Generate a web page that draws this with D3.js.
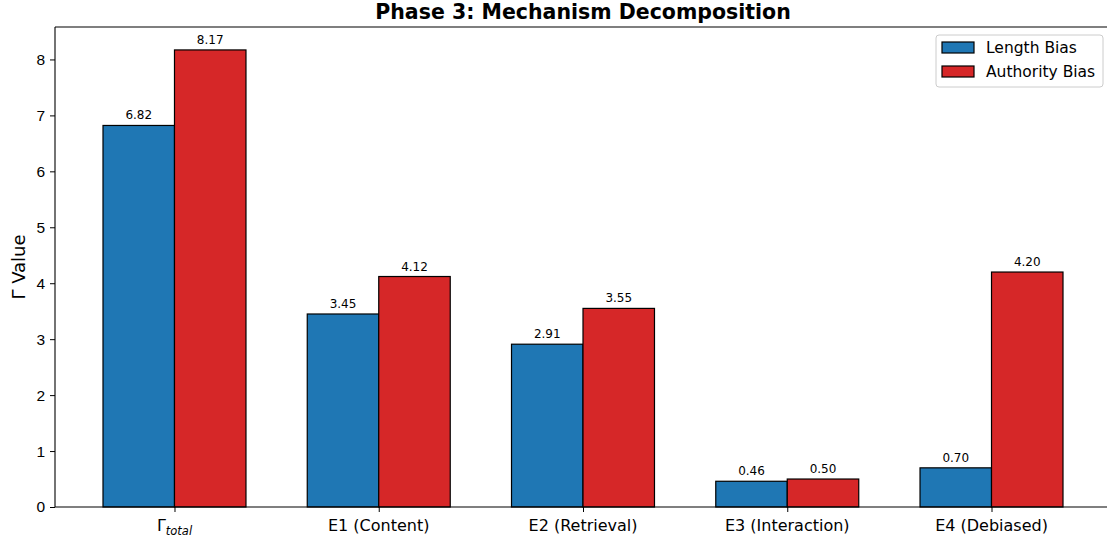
<!DOCTYPE html>
<html>
<head>
<meta charset="utf-8">
<script src="https://cdn.jsdelivr.net/npm/d3@7"></script>
<style>
  body { margin: 0; background: #fff; }
  svg { font-family: "DejaVu Sans", sans-serif; }
</style>
</head>
<body>
<div id="chart"></div>
<script>
// data
var categories = ["Γtotal", "E1 (Content)", "E2 (Retrieval)", "E3 (Interaction)", "E4 (Debiased)"];
var lengthBias = [6.82, 3.45, 2.91, 0.46, 0.70];
var authorityBias = [8.17, 4.12, 3.55, 0.50, 4.20];
var seriesNames = ["Length Bias", "Authority Bias"];
var yTicks = [0, 1, 2, 3, 4, 5, 6, 7, 8];

var svgWidth = 1107;
var svgHeight = 540;
var margin = { top: 27, right: -4, bottom: 33, left: 55 };
var width = svgWidth - margin.left - margin.right;
var height = svgHeight - margin.top - margin.bottom;

var colors = ["#1f77b4", "#d62728"];
var barW = 0.35;

var svg = d3.select("#chart")
  .append("svg")
  .attr("width", svgWidth)
  .attr("height", svgHeight);

var chart = svg.append("g")
  .attr("transform", "translate(" + margin.left + "," + margin.top + ")");

// x in category-index units, matplotlib style 5% margins
var xScale = d3.scaleLinear().domain([-0.585, 4.585]).range([0, width]);
var yScale = d3.scaleLinear().domain([0, 8.58]).range([height, 0]);

var series = [lengthBias, authorityBias];

series.forEach(function(vals, s) {
  var offset = s === 0 ? -barW : 0;
  chart.selectAll(".bar" + s)
    .data(vals)
    .enter()
    .append("rect")
    .attr("x", function(d, i) { return xScale(i + offset); })
    .attr("y", function(d) { return yScale(d); })
    .attr("width", xScale(barW) - xScale(0))
    .attr("height", function(d) { return height - yScale(d); })
    .attr("fill", colors[s])
    .attr("stroke", "#000")
    .attr("stroke-width", 1.2);

  chart.selectAll(".lbl" + s)
    .data(vals)
    .enter()
    .append("text")
    .attr("x", function(d, i) { return xScale(i + offset + barW / 2); })
    .attr("y", function(d) { return yScale(d) - 6; })
    .attr("text-anchor", "middle")
    .style("font-size", "12px")
    .text(function(d) { return d.toFixed(2); });
});

// y axis
var leftAxis = d3.axisLeft(yScale).tickValues(yTicks).tickSize(5).tickPadding(5).tickFormat(d3.format("d"));
var yAxisG = chart.append("g").call(leftAxis);
yAxisG.select(".domain").remove();
yAxisG.selectAll("text").style("font-size", "15.5px").attr("fill", "#000");
yAxisG.selectAll("line").attr("stroke", "#000").attr("stroke-width", 1);

// x axis
var bottomAxis = d3.axisBottom(xScale).tickValues(d3.range(categories.length)).tickSize(5).tickPadding(5).tickFormat("");
var xAxisG = chart.append("g").attr("transform", "translate(0," + height + ")").call(bottomAxis);
xAxisG.select(".domain").remove();
xAxisG.selectAll("line").attr("stroke", "#000");

chart.selectAll(".xlbl")
  .data(categories)
  .enter()
  .append("text")
  .attr("x", function(d, i) { return xScale(i); })
  .attr("y", height + 24)
  .attr("text-anchor", "middle")
  .style("font-size", "16px")
  .each(function(d, i) {
    var t = d3.select(this);
    if (i === 0) {
      t.append("tspan").text("Γ");
      t.append("tspan").attr("dy", 4).style("font-size", "11.5px").style("font-style", "italic").text("total");
    } else {
      t.text(d);
    }
  });

// spines: left, bottom, top (right one falls outside the image)
chart.append("line").attr("x1", 0).attr("x2", 0).attr("y1", 0).attr("y2", height).attr("stroke", "#000").attr("stroke-width", 1.1);
chart.append("line").attr("x1", 0).attr("x2", width).attr("y1", height).attr("y2", height).attr("stroke", "#000").attr("stroke-width", 1.1);
chart.append("line").attr("x1", 0).attr("x2", width).attr("y1", 0).attr("y2", 0).attr("stroke", "#000").attr("stroke-width", 1.1);

// title
svg.append("text")
  .attr("x", margin.left + (xScale(2)))
  .attr("y", 19)
  .attr("text-anchor", "middle")
  .style("font-size", "20.5px")
  .style("font-weight", "bold")
  .text("Phase 3: Mechanism Decomposition");

// y label
svg.append("text")
  .attr("transform", "rotate(-90)")
  .attr("x", -(margin.top + height / 2))
  .attr("y", 25)
  .attr("text-anchor", "middle")
  .style("font-size", "18px")
  .text("Γ Value");

// legend
var legend = svg.append("g").attr("transform", "translate(936,35)");
legend.append("rect")
  .attr("width", 167).attr("height", 52)
  .attr("rx", 3)
  .attr("fill", "#fff").attr("stroke", "#ccc");
seriesNames.forEach(function(name, s) {
  legend.append("rect")
    .attr("x", 6).attr("y", 7 + s * 24)
    .attr("width", 32).attr("height", 11)
    .attr("fill", colors[s]).attr("stroke", "#000").attr("stroke-width", 1.2);
  legend.append("text")
    .attr("x", 50).attr("y", 18 + s * 24)
    .style("font-size", "15.5px")
    .text(name);
});
</script>
</body>
</html>
